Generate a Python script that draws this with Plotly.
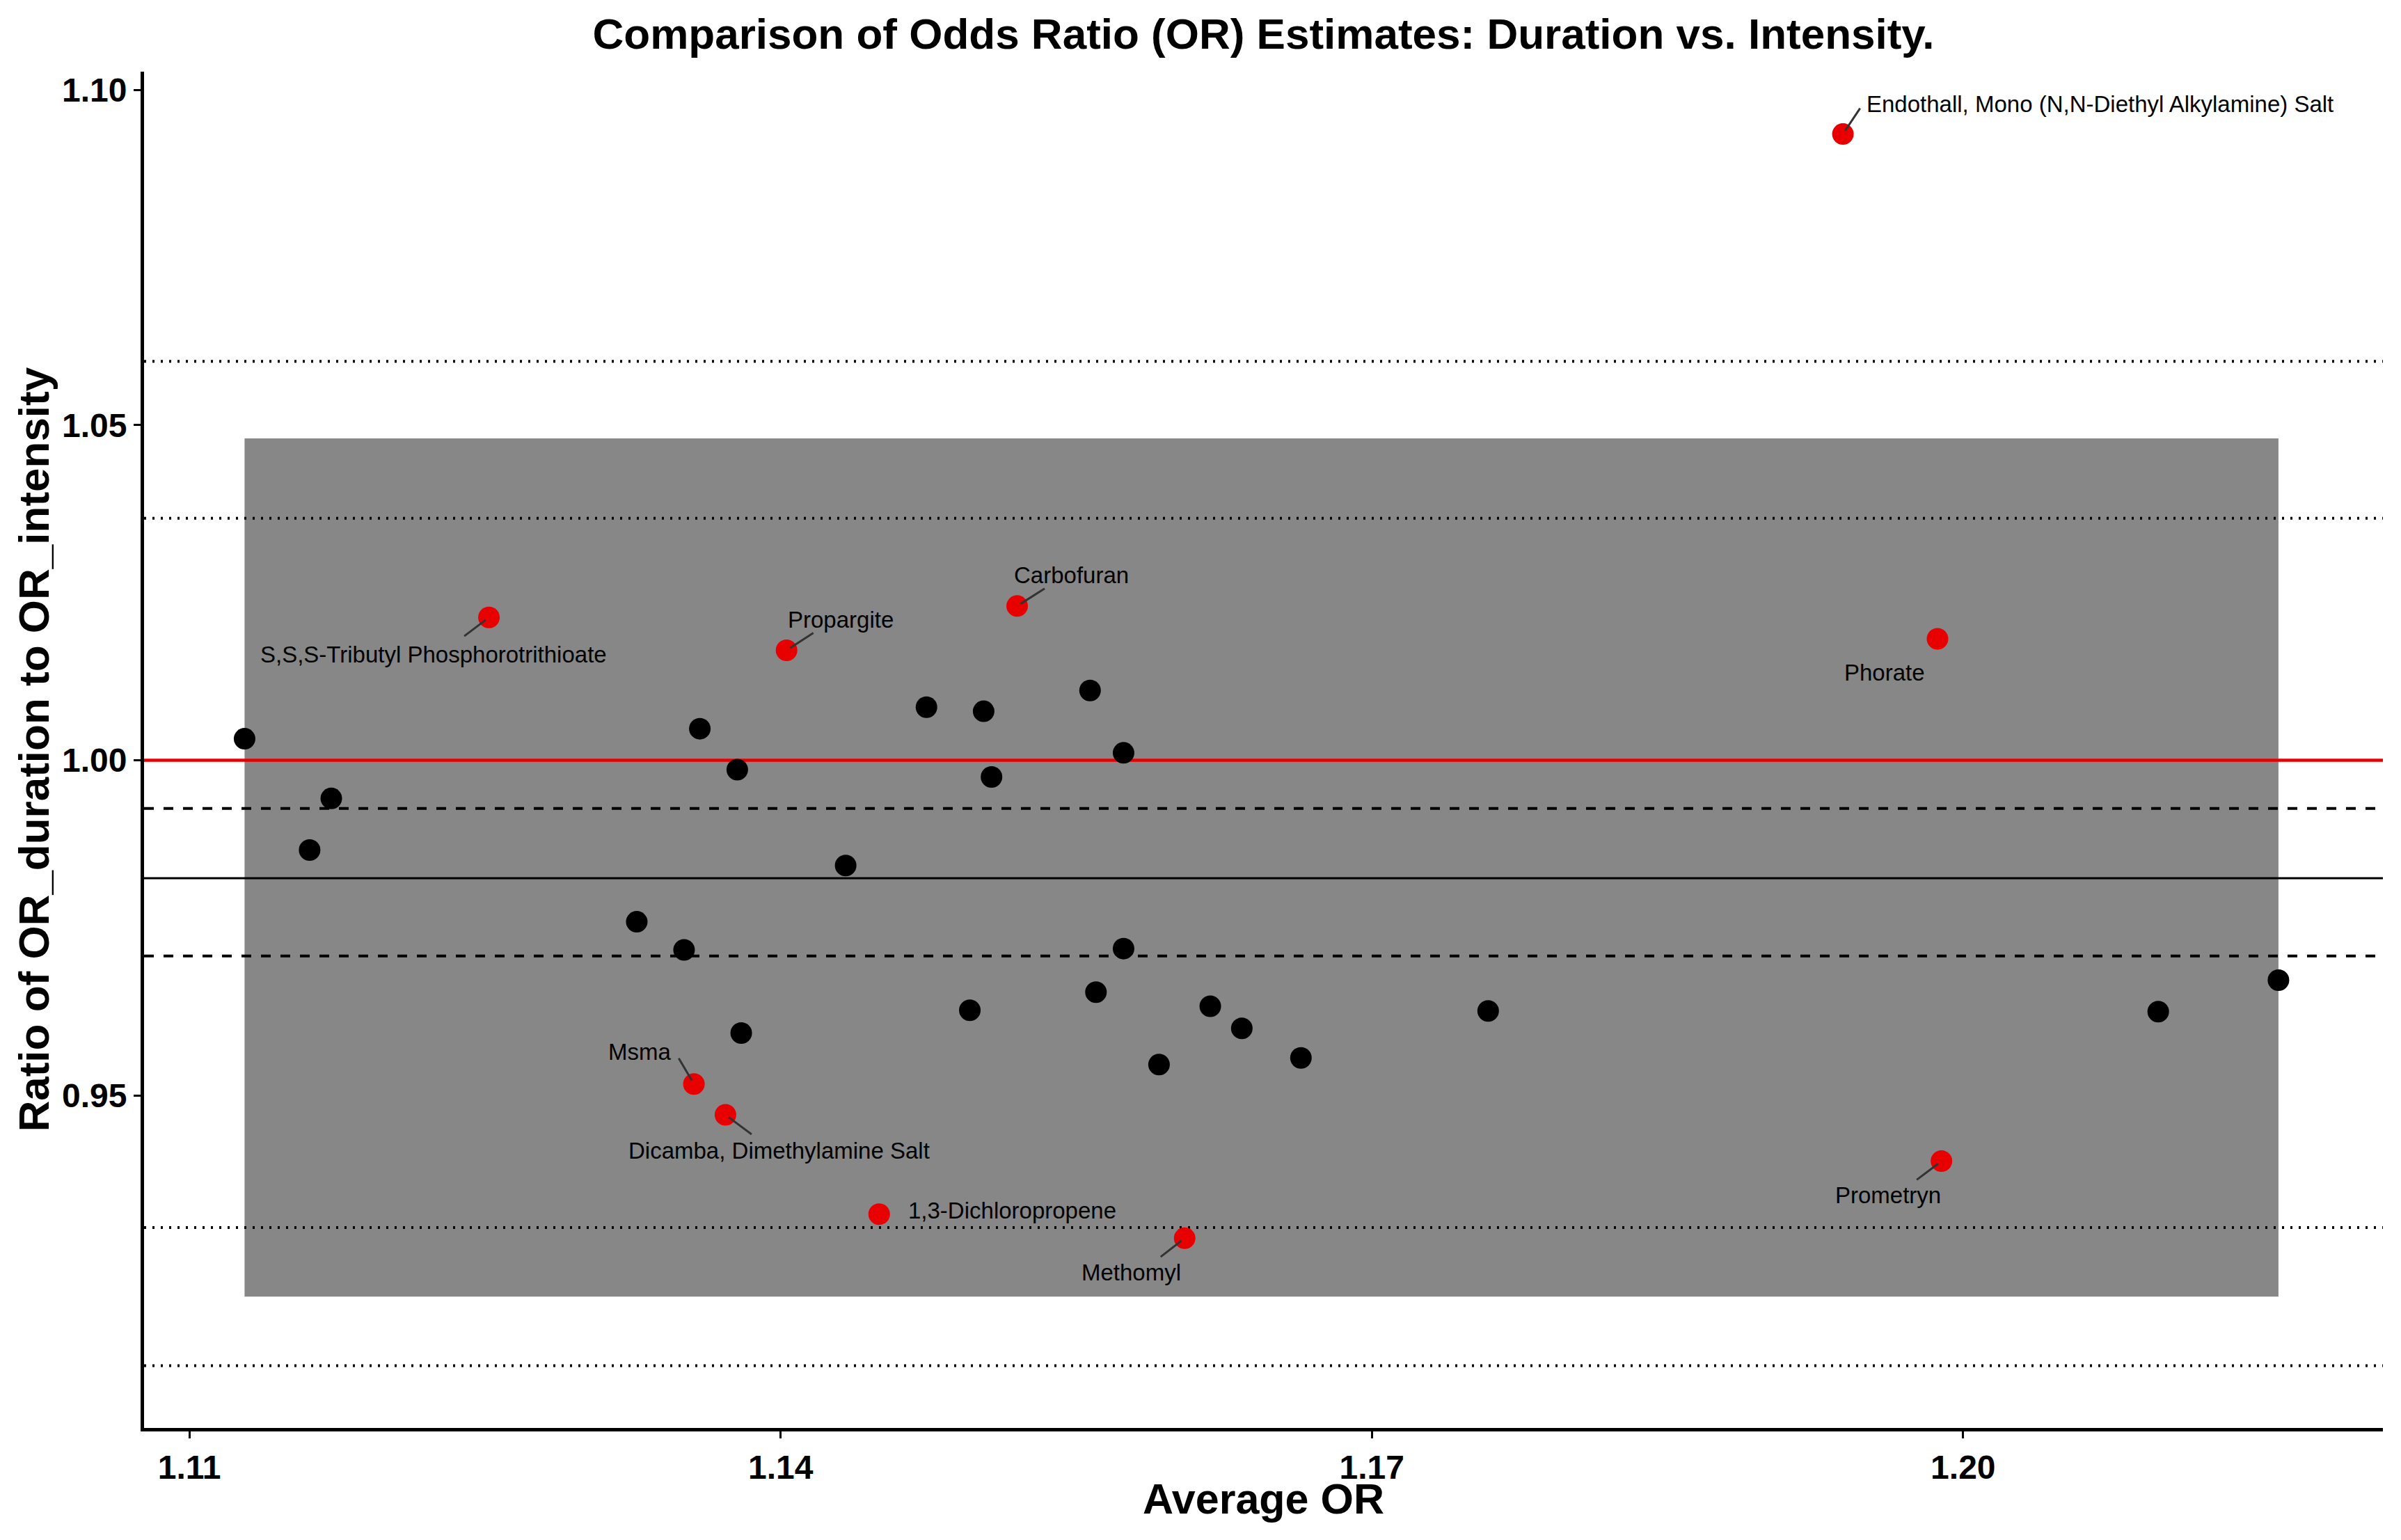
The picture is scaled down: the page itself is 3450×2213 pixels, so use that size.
import plotly.graph_objects as go

# ---------------- data ----------------
black_avg_or = [1.1128, 1.1161, 1.1172, 1.1327, 1.1351, 1.1359, 1.1378, 1.1380,
                1.1433, 1.1474, 1.1496, 1.1503, 1.1507, 1.1557, 1.1560, 1.1574,
                1.1574, 1.1592, 1.1618, 1.1634, 1.1664, 1.1759, 1.2099, 1.2160]
black_ratio = [1.0032, 0.9866, 0.9943, 0.9759, 0.9717, 1.0047, 0.9986, 0.9593,
               0.9843, 1.0079, 0.9627, 1.0073, 0.9975, 1.0104, 0.9654, 1.0011,
               0.9719, 0.9546, 0.9633, 0.9600, 0.9556, 0.9626, 0.9625, 0.9672]

red_names = ["Endothall, Mono (N,N-Diethyl Alkylamine) Salt",
             "S,S,S-Tributyl Phosphorotrithioate",
             "Propargite", "Carbofuran", "Phorate", "Msma",
             "Dicamba, Dimethylamine Salt", "1,3-Dichloropropene",
             "Methomyl", "Prometryn"]
red_avg_or = [1.1939, 1.1252, 1.1403, 1.1520, 1.1987, 1.1356, 1.1372, 1.1450, 1.1605, 1.1989]
red_ratio = [1.0934, 1.0213, 1.0164, 1.0230, 1.0181, 0.9517, 0.9471, 0.9323, 0.9287, 0.9402]

ref_line = 1.0
mean_ratio = 0.9824
mean_ci = [0.9928, 0.9708]
limits_dotted = [1.0595, 1.0361, 0.9303, 0.9097]
band_lo, band_hi = 0.920, 1.048

x_range = [1.1077, 1.2213]
y_range = [0.9004, 1.1027]
x_ticks = [1.11, 1.14, 1.17, 1.20]
y_ticks = [0.95, 1.00, 1.05, 1.10]

# ---------------- label layout (pixel offsets, styling) ----------------
# (xanchor, xshift, yshift, segment tail offset)  None -> no segment
label_layout = [
    ("left", 32, 43, (26, -39)),
    ("center", -80, -53, (-37, 28)),
    ("center", 78, 44, (40, -26)),
    ("center", 78, 44, (41, -26)),
    ("center", -76, -48, None),
    ("center", -78, 46, (-23, -39)),
    ("center", 77, -51, (39, 29)),
    ("left", 40, 5, None),
    ("center", -77, -49, (-36, 28)),
    ("center", -77, -49, (-37, 28)),
]

FONT = "Liberation Sans, Arial, sans-serif"
RED = "#E80000"

fig = go.Figure()

# gray band spanning the observed average OR range
all_x = black_avg_or + red_avg_or
fig.add_shape(type="rect", xref="x", yref="y",
              x0=min(all_x), x1=max(all_x), y0=band_lo, y1=band_hi,
              fillcolor="#878787", line=dict(width=0), layer="below")

# horizontal reference lines (drawn above band, below markers)
def hline(v, **line):
    fig.add_shape(type="line", xref="x", yref="y", x0=x_range[0], x1=x_range[1],
                  y0=v, y1=v, line=line, layer="below")

for v in limits_dotted:
    hline(v, color="black", width=4, dash="3px,9px")
for v in mean_ci:
    hline(v, color="black", width=4, dash="14px,14px")
hline(mean_ratio, color="black", width=3)
hline(ref_line, color=RED, width=4.5)

fig.add_trace(go.Scatter(x=black_avg_or, y=black_ratio, mode="markers",
                         marker=dict(color="black", size=31, line=dict(width=0)),
                         showlegend=False, hoverinfo="skip"))
fig.add_trace(go.Scatter(x=red_avg_or, y=red_ratio, mode="markers",
                         marker=dict(color=RED, size=31, line=dict(width=0)),
                         showlegend=False, hoverinfo="skip"))

annotations = []
for name, xv, yv, (xa, xs, ys, seg) in zip(red_names, red_avg_or, red_ratio, label_layout):
    annotations.append(dict(x=xv, y=yv, xref="x", yref="y", text=name, showarrow=False,
                            xanchor=xa, yanchor="middle", xshift=xs, yshift=ys,
                            font=dict(family=FONT, size=33, color="black")))
    if seg is not None:
        annotations.append(dict(x=xv, y=yv, xref="x", yref="y", text=" ", showarrow=True,
                                ax=seg[0], ay=seg[1], arrowhead=0, arrowwidth=3,
                                arrowcolor="#333333", standoff=6,
                                font=dict(size=1)))

# axis titles
annotations.append(dict(text="<b>Average OR</b>", xref="paper", yref="paper",
                        x=0.5, y=-0.0523, xanchor="center", yanchor="middle",
                        showarrow=False, font=dict(family=FONT, size=61, color="black")))
annotations.append(dict(text="<b>Ratio of OR_duration to OR_intensity</b>", xref="paper", yref="paper",
                        x=-0.0494, y=0.5, xanchor="center", yanchor="middle", textangle=-90,
                        showarrow=False, font=dict(family=FONT, size=62, color="black")))

fig.update_layout(
    width=3450, height=2213,
    margin=dict(l=207, r=26, t=103, b=161),
    paper_bgcolor="white", plot_bgcolor="white",
    title=dict(text="<b>Comparison of Odds Ratio (OR) Estimates: Duration vs. Intensity.</b>",
               x=0.5, xref="paper", xanchor="center",
               y=1 - 48 / 2213, yref="container", yanchor="middle",
               font=dict(family=FONT, size=62, color="black")),
    annotations=annotations,
    xaxis=dict(range=x_range, tickvals=x_ticks, tickformat=".2f",
               showgrid=False, zeroline=False, showline=True, linecolor="black", linewidth=5,
               ticks="outside", ticklen=10, tickwidth=3, tickcolor="black",
               tickfont=dict(family=FONT, size=48, color="black", weight="bold")),
    yaxis=dict(range=y_range, tickvals=y_ticks, tickformat=".2f",
               showgrid=False, zeroline=False, showline=True, linecolor="black", linewidth=5,
               ticks="outside", ticklen=10, tickwidth=3, tickcolor="black",
               tickfont=dict(family=FONT, size=48, color="black", weight="bold")),
)

fig.write_html("out.html")
